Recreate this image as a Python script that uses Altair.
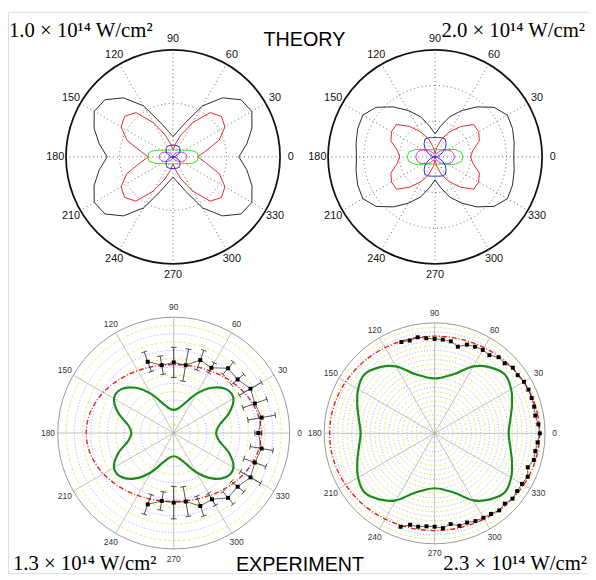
import altair as alt
import pandas as pd

# ------------------------------------------------------------------ data
# polar angle grid (degrees) of the theory curves and of the smooth experiment curves
ANGLES = [0, 10, 20, 30, 40, 50, 60, 70, 80, 90, 100, 110, 120, 130, 140, 150, 160, 170,
          180, 190, 200, 210, 220, 230, 240, 250, 260, 270, 280, 290, 300, 310, 320, 330, 340, 350]
GRID_ANGLES = [0, 30, 60, 90, 120, 150, 180, 210, 240, 270, 300, 330]

# THEORY, 1.0e14 W/cm2 (radius relative to the outer circle)
T1_BLACK = [0.615, 0.70, 0.785, 0.85, 0.83, 0.72, 0.55, 0.34, 0.24, 0.19, 0.24, 0.34, 0.55, 0.72, 0.83, 0.85, 0.785, 0.70,
            0.615, 0.70, 0.785, 0.85, 0.83, 0.72, 0.55, 0.34, 0.24, 0.19, 0.24, 0.34, 0.55, 0.72, 0.83, 0.85, 0.785, 0.70]
T1_RED = [0.23, 0.31, 0.46, 0.56, 0.59, 0.54, 0.37, 0.22, 0.12, 0.06, 0.12, 0.22, 0.37, 0.54, 0.59, 0.56, 0.46, 0.31,
          0.23, 0.31, 0.46, 0.56, 0.59, 0.54, 0.37, 0.22, 0.12, 0.06, 0.12, 0.22, 0.37, 0.54, 0.59, 0.56, 0.46, 0.31]
T1_GREEN = [0.235, 0.23, 0.18, 0.125, 0.10, 0.083, 0.074, 0.069, 0.066, 0.065, 0.066, 0.069, 0.074, 0.083, 0.10, 0.125, 0.18, 0.23,
            0.235, 0.23, 0.18, 0.125, 0.10, 0.083, 0.074, 0.069, 0.066, 0.065, 0.066, 0.069, 0.074, 0.083, 0.10, 0.125, 0.18, 0.23]
T1_MAGENTA = [0.13, 0.125, 0.11, 0.09, 0.065, 0.045, 0.03, 0.02, 0.01, 0.005, 0.01, 0.02, 0.03, 0.045, 0.065, 0.09, 0.11, 0.125,
              0.13, 0.125, 0.11, 0.09, 0.065, 0.045, 0.03, 0.02, 0.01, 0.005, 0.01, 0.02, 0.03, 0.045, 0.065, 0.09, 0.11, 0.125]
T1_BLUE = [0.0, 0.02, 0.04, 0.065, 0.085, 0.10, 0.11, 0.112, 0.11, 0.108, 0.11, 0.112, 0.11, 0.10, 0.085, 0.065, 0.04, 0.02,
           0.0, 0.02, 0.04, 0.065, 0.085, 0.10, 0.11, 0.112, 0.11, 0.108, 0.11, 0.112, 0.11, 0.10, 0.085, 0.065, 0.04, 0.02]

# THEORY, 2.0e14 W/cm2
T2_BLACK = [0.735, 0.75, 0.77, 0.78, 0.72, 0.61, 0.50, 0.40, 0.29, 0.215, 0.29, 0.40, 0.50, 0.61, 0.72, 0.78, 0.77, 0.75,
            0.735, 0.75, 0.77, 0.78, 0.72, 0.61, 0.50, 0.40, 0.29, 0.215, 0.29, 0.40, 0.50, 0.61, 0.72, 0.78, 0.77, 0.75]
T2_RED = [0.33, 0.36, 0.44, 0.47, 0.47, 0.37, 0.27, 0.18, 0.09, 0.03, 0.09, 0.18, 0.27, 0.37, 0.47, 0.47, 0.44, 0.36,
          0.33, 0.36, 0.44, 0.47, 0.47, 0.37, 0.27, 0.18, 0.09, 0.03, 0.09, 0.18, 0.27, 0.37, 0.47, 0.47, 0.44, 0.36]
T2_GREEN = [0.26, 0.25, 0.20, 0.14, 0.105, 0.087, 0.077, 0.07, 0.066, 0.065, 0.066, 0.07, 0.077, 0.087, 0.105, 0.14, 0.20, 0.25,
            0.26, 0.25, 0.20, 0.14, 0.105, 0.087, 0.077, 0.07, 0.066, 0.065, 0.066, 0.07, 0.077, 0.087, 0.105, 0.14, 0.20, 0.25]
T2_MAGENTA = [0.18, 0.175, 0.16, 0.13, 0.10, 0.07, 0.045, 0.025, 0.01, 0.0, 0.01, 0.025, 0.045, 0.07, 0.10, 0.13, 0.16, 0.175,
              0.18, 0.175, 0.16, 0.13, 0.10, 0.07, 0.045, 0.025, 0.01, 0.0, 0.01, 0.025, 0.045, 0.07, 0.10, 0.13, 0.16, 0.175]
T2_BLUE = [0.0, 0.02, 0.045, 0.08, 0.125, 0.16, 0.19, 0.19, 0.183, 0.18, 0.183, 0.19, 0.19, 0.16, 0.125, 0.08, 0.045, 0.02,
           0.0, 0.02, 0.045, 0.08, 0.125, 0.16, 0.19, 0.19, 0.183, 0.18, 0.183, 0.19, 0.19, 0.16, 0.125, 0.08, 0.045, 0.02]

# EXPERIMENT, 1.3e14 W/cm2
E1_GREEN = [0.366, 0.40, 0.51, 0.595, 0.59, 0.51, 0.39, 0.27, 0.215, 0.20, 0.215, 0.27, 0.39, 0.51, 0.59, 0.595, 0.51, 0.40,
            0.366, 0.40, 0.51, 0.595, 0.59, 0.51, 0.39, 0.27, 0.215, 0.20, 0.215, 0.27, 0.39, 0.51, 0.59, 0.595, 0.51, 0.40]
E1_RED = [0.755, 0.748, 0.728, 0.701, 0.672, 0.645, 0.621, 0.605, 0.594, 0.59, 0.594, 0.605, 0.621, 0.645, 0.672, 0.701, 0.728, 0.748,
          0.755, 0.748, 0.728, 0.701, 0.672, 0.645, 0.621, 0.605, 0.594, 0.59, 0.594, 0.605, 0.621, 0.645, 0.672, 0.701, 0.728, 0.748]
E1_PT_ANGLES = [110, 100, 90, 80, 70, 60, 50, 40, 30, 20, 10, 0, -10, -20, -30, -40, -50, -60, -70, -80, -90, -100, -110]
E1_PT_R = [0.655, 0.595, 0.61, 0.595, 0.67, 0.65, 0.73, 0.72, 0.765, 0.745, 0.77, 0.73,
           0.77, 0.745, 0.765, 0.72, 0.73, 0.66, 0.67, 0.60, 0.60, 0.595, 0.655]
E1_PT_ERR = [0.09, 0.08, 0.13, 0.14, 0.09, 0.05, 0.07, 0.07, 0.11, 0.11, 0.12, 0.03,
             0.10, 0.10, 0.10, 0.07, 0.07, 0.06, 0.09, 0.13, 0.14, 0.08, 0.09]

# EXPERIMENT, 2.3e14 W/cm2
E2_GREEN = [0.67, 0.695, 0.745, 0.80, 0.83, 0.78, 0.70, 0.58, 0.52, 0.497, 0.52, 0.58, 0.70, 0.78, 0.83, 0.80, 0.745, 0.695,
            0.67, 0.695, 0.745, 0.80, 0.83, 0.78, 0.70, 0.58, 0.52, 0.497, 0.52, 0.58, 0.70, 0.78, 0.83, 0.80, 0.745, 0.695]
E2_RED = [0.95, 0.948, 0.941, 0.931, 0.919, 0.907, 0.896, 0.887, 0.882, 0.88, 0.882, 0.887, 0.896, 0.907, 0.919, 0.931, 0.941, 0.948,
          0.95, 0.948, 0.941, 0.931, 0.919, 0.907, 0.896, 0.887, 0.882, 0.88, 0.882, 0.887, 0.896, 0.907, 0.919, 0.931, 0.941, 0.948]
E2_PT_ANGLES = [110, 105, 100, 95, 90, 85, 80, 75, 70, 65, 60, 55, 50, 45, 40, 35, 30, 25, 20, 15, 10, 5, 0,
                -5, -10, -15, -20, -25, -30, -35, -40, -45, -50, -55, -60, -65, -70, -75, -80, -85, -90, -95, -100, -105, -110]
E2_PT_R = [0.88, 0.87, 0.883, 0.864, 0.855, 0.852, 0.846, 0.812, 0.855, 0.865, 0.872, 0.864, 0.90, 0.897, 0.925, 0.918,
           0.934, 0.937, 0.935, 0.933, 0.925, 0.943, 0.952, 0.936, 0.925, 0.93, 0.897, 0.93, 0.914, 0.912, 0.92, 0.899,
           0.91, 0.89, 0.882, 0.876, 0.859, 0.866, 0.834, 0.861, 0.845, 0.845, 0.858, 0.857, 0.90]

INTENSITY = {"t1": "1.0 × 10¹⁴ W/cm²", "t2": "2.0 × 10¹⁴ W/cm²",
             "e1": "1.3 × 10¹⁴ W/cm²", "e2": "2.3 × 10¹⁴ W/cm²"}
SECTION = ["THEORY", "EXPERIMENT"]

# ------------------------------------------------------------------ layout (page pixels)
W, H = 588, 569
PANELS = {
    "t1": dict(cx=175.3, cy=155.0, R=108.5),
    "t2": dict(cx=441.0, cy=155.0, R=108.5),
    "e1": dict(cx=176.0, cy=435.0, R=117.5),
    "e2": dict(cx=440.5, cy=435.3, R=112.0),
}
XS = alt.Scale(domain=[8, 8 + W], nice=False, zero=False)
YS = alt.Scale(domain=[8, 8 + H], nice=False, zero=False, reverse=True)

PX = "datum.cx + datum.R * datum.r * cos(datum.theta * PI / 180)"
PY = "datum.cy - datum.R * datum.r * sin(datum.theta * PI / 180)"


def rows(panel, series, angles, radii, err=None):
    out = []
    for k, (a, v) in enumerate(zip(angles, radii)):
        d = dict(panel=panel, series=series, k=k, theta=a, r=v)
        if err is not None:
            d["err"] = err[k]
        d.update(PANELS[panel])
        out.append(d)
    return out


def X(f):
    return alt.X(f + ":Q", scale=XS, axis=None)


def Y(f):
    return alt.Y(f + ":Q", scale=YS, axis=None)


# ---------------- theory curves
theory = []
for p, curves in (("t1", [T1_BLACK, T1_RED, T1_GREEN, T1_MAGENTA, T1_BLUE]),
                  ("t2", [T2_BLACK, T2_RED, T2_GREEN, T2_MAGENTA, T2_BLUE])):
    for name, vals in zip(["c1", "c2", "c3", "c4", "c5"], curves):
        theory += rows(p, name, ANGLES, vals)
theory_df = pd.DataFrame(theory)

theory_lines = alt.Chart(theory_df).transform_calculate(px=PX, py=PY).mark_line(
    strokeWidth=1, interpolate="linear-closed"
).encode(
    x=X("px"), y=Y("py"), order="k:Q", detail="panel:N",
    color=alt.Color("series:N", legend=None,
                    scale=alt.Scale(domain=["c1", "c2", "c3", "c4", "c5"],
                                    range=["#2a2a2a", "#e8262e", "#2ee82e", "#e22ee2", "#2a2ae8"])),
)

# ---------------- grids
spoke_rows = []
ring_rows = []
label_rows = []
for p in PANELS:
    for a in GRID_ANGLES:
        d = dict(panel=p, theta=a, r=1.0, lab=str(a))
        d.update(PANELS[p])
        spoke_rows.append(d)
        lr = dict(d)
        lr["r"] = 1.10 if p.startswith("t") else 1.085
        label_rows.append(lr)

RINGS = {
    "t1": [("dot", 0.5), ("outer", 1.0)],
    "t2": [("dot", 1 / 3), ("dot", 2 / 3), ("outer", 1.0)],
    "e1": [("blue", k / 7) for k in range(1, 7)] + [("yellow", (k + 0.5) / 7) for k in range(0, 7)] + [("gray", 1.0)],
    "e2": [("blue", k / 12) for k in range(1, 12)] + [("yellow", (k + 0.5) / 12) for k in range(0, 12)] + [("gray", 1.0)],
}
for p, lst in RINGS.items():
    for kind, rr in lst:
        d = dict(panel=p, kind=kind, ring=rr)
        d.update(PANELS[p])
        ring_rows.append(d)

spoke_df = pd.DataFrame(spoke_rows)
ring_df = pd.DataFrame(ring_rows)
label_df = pd.DataFrame(label_rows)

spoke_base = alt.Chart(spoke_df).transform_calculate(px=PX, py=PY)
t_spokes = spoke_base.transform_filter("datum.panel[0] == 't'").mark_rule(
    color="#555555", strokeWidth=0.9, strokeDash=[1, 3]
).encode(x=X("cx"), y=Y("cy"), x2="px:Q", y2="py:Q")
e_spokes = spoke_base.transform_filter("datum.panel[0] == 'e'").mark_rule(
    color="#a8a8a8", strokeWidth=0.7
).encode(x=X("cx"), y=Y("cy"), x2="px:Q", y2="py:Q")

ring_base = alt.Chart(ring_df).transform_calculate(rad="datum.R * datum.ring")


def ring_layer(kind, color, width, dash=None):
    kw = dict(filled=False, theta=0, theta2=6.2832, color=color, strokeWidth=width)
    if dash:
        kw["strokeDash"] = dash
    return ring_base.transform_filter(f"datum.kind == '{kind}'").mark_arc(**kw).encode(
        x=X("cx"), y=Y("cy"), radius=alt.Radius("rad:Q", scale=None, stack=False))


rings = (ring_layer("yellow", "#e6e650", 0.8, [3, 2])
         + ring_layer("blue", "#8a8ae0", 0.8, [1, 2])
         + ring_layer("dot", "#555555", 0.9, [1, 3])
         + ring_layer("gray", "#8c8c8c", 0.9)
         + ring_layer("outer", "#111111", 1.8))

label_base = alt.Chart(label_df).transform_calculate(px=PX, py=PY)
t_labels = label_base.transform_filter("datum.panel[0] == 't'").mark_text(
    font="Liberation Sans", fontSize=11, color="#111111", align="center", baseline="middle"
).encode(x=X("px"), y=Y("py"), text="lab:N")
e_labels = label_base.transform_filter("datum.panel[0] == 'e'").mark_text(
    font="Liberation Sans", fontSize=8.5, color="#333333", align="center", baseline="middle"
).encode(x=X("px"), y=Y("py"), text="lab:N")

# ---------------- experiment curves
exp_rows = []
for p, g, rd in (("e1", E1_GREEN, E1_RED), ("e2", E2_GREEN, E2_RED)):
    exp_rows += rows(p, "model", ANGLES, g)
    exp_rows += rows(p, "fit", ANGLES, rd)
exp_df = pd.DataFrame(exp_rows)
exp_base = alt.Chart(exp_df).transform_calculate(px=PX, py=PY)
green = exp_base.transform_filter("datum.series == 'model'").mark_line(
    color="#1c8a1c", strokeWidth=2.2, interpolate="cardinal-closed"
).encode(x=X("px"), y=Y("py"), order="k:Q", detail="panel:N")
red = exp_base.transform_filter("datum.series == 'fit'").mark_line(
    color="#e02222", strokeWidth=1.4, strokeDash=[5, 2, 1, 2], interpolate="cardinal-closed"
).encode(x=X("px"), y=Y("py"), order="k:Q", detail="panel:N")

pt_df = pd.DataFrame(rows("e1", "data", E1_PT_ANGLES, E1_PT_R, E1_PT_ERR)
                     + rows("e2", "data", E2_PT_ANGLES, E2_PT_R))
pt_base = alt.Chart(pt_df).transform_calculate(px=PX, py=PY)
pt_line = pt_base.mark_line(color="#222222", strokeWidth=0.7).encode(
    x=X("px"), y=Y("py"), order="k:Q", detail="panel:N")
pt_marks = pt_base.mark_square(color="#000000", size=16, opacity=1).encode(x=X("px"), y=Y("py"))

C = "cos(datum.theta * PI / 180)"
S = "sin(datum.theta * PI / 180)"
err_base = alt.Chart(pt_df).transform_filter("isValid(datum.err)").transform_calculate(
    xl=f"datum.cx + datum.R * (datum.r - datum.err) * {C}",
    yl=f"datum.cy - datum.R * (datum.r - datum.err) * {S}",
    xh=f"datum.cx + datum.R * (datum.r + datum.err) * {C}",
    yh=f"datum.cy - datum.R * (datum.r + datum.err) * {S}",
).transform_calculate(
    xl1=f"datum.xl + 3 * {S}", yl1=f"datum.yl + 3 * {C}",
    xl2=f"datum.xl - 3 * {S}", yl2=f"datum.yl - 3 * {C}",
    xh1=f"datum.xh + 3 * {S}", yh1=f"datum.yh + 3 * {C}",
    xh2=f"datum.xh - 3 * {S}", yh2=f"datum.yh - 3 * {C}",
)
err_bars = err_base.mark_rule(color="#222222", strokeWidth=0.8).encode(
    x=X("xl"), y=Y("yl"), x2="xh:Q", y2="yh:Q")
cap_lo = err_base.mark_rule(color="#222222", strokeWidth=0.8).encode(
    x=X("xl1"), y=Y("yl1"), x2="xl2:Q", y2="yl2:Q")
cap_hi = err_base.mark_rule(color="#222222", strokeWidth=0.8).encode(
    x=X("xh1"), y=Y("yh1"), x2="xh2:Q", y2="yh2:Q")

# ---------------- titles
sec_df = pd.DataFrame({"text": SECTION, "tx": [308.5, 304.0], "ty": [43.0, 575.0]})
sections = alt.Chart(sec_df).mark_text(
    font="Liberation Sans", fontSize=20, color="#000000", align="center", baseline="alphabetic"
).encode(x=X("tx"), y=Y("ty"), text="text:N")

int_left = pd.DataFrame({"text": [INTENSITY["t1"], INTENSITY["e1"]], "tx": [9.0, 13.0], "ty": [33.0, 574.0]})
int_right = pd.DataFrame({"text": [INTENSITY["t2"], INTENSITY["e2"]], "tx": [593.0, 595.0], "ty": [33.0, 574.0]})
lab_left = alt.Chart(int_left).mark_text(
    font="Liberation Serif", fontSize=21, color="#000000", align="left", baseline="alphabetic"
).encode(x=X("tx"), y=Y("ty"), text="text:N")
lab_right = alt.Chart(int_right).mark_text(
    font="Liberation Serif", fontSize=21, color="#000000", align="right", baseline="alphabetic"
).encode(x=X("tx"), y=Y("ty"), text="text:N")

chart = alt.layer(
    rings, t_spokes, e_spokes, theory_lines, green, red, err_bars, cap_lo, cap_hi,
    pt_line, pt_marks, t_labels, e_labels, sections, lab_left, lab_right
).properties(
    width=W, height=H, padding=0, autosize=alt.AutoSizeParams(type="none")
).configure_view(strokeWidth=0).configure(background="white")

chart.save("out.html", embed_options={"renderer": "svg", "actions": False})
